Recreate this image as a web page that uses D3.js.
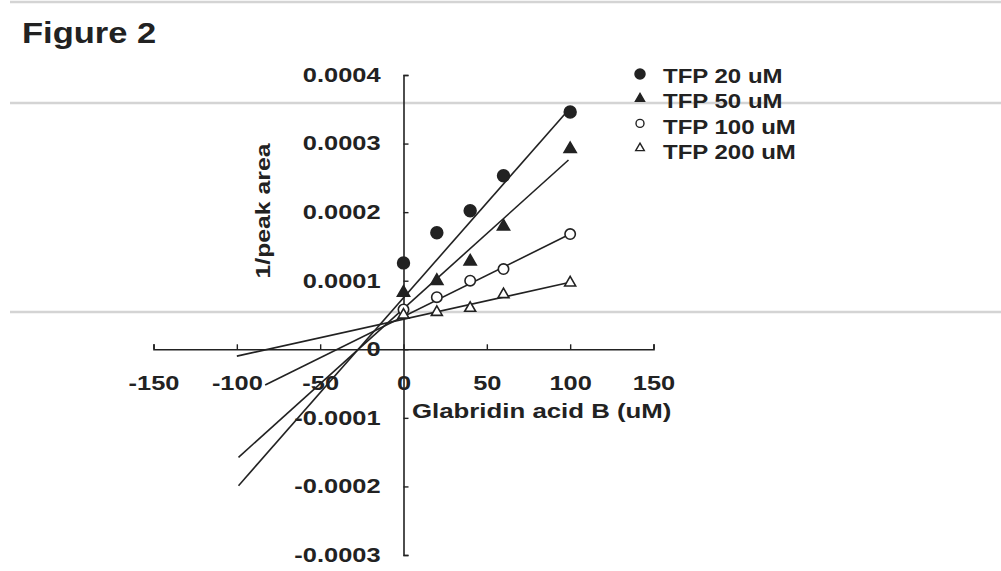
<!DOCTYPE html>
<html>
<head>
<meta charset="utf-8">
<script src="https://cdn.jsdelivr.net/npm/d3@7"></script>
<style>
  body { margin: 0; background: #fff; }
  svg { display: block; font-family: "Liberation Sans", Arial, sans-serif; font-weight: bold; }
</style>
</head>
<body>
<svg id="chart"></svg>
<script>
// values
const concs = [0, 20, 40, 60, 100];
const seriesNames = ["TFP 20 uM", "TFP 50 uM", "TFP 100 uM", "TFP 200 uM"];
const tfp20 = [0.000126, 0.00017, 0.000202, 0.000253, 0.000346];
const tfp50 = [0.0000825, 0.0000996, 0.000128, 0.000179, 0.000292];
const tfp100 = [0.000058, 0.000076, 0.0001, 0.000117, 0.000168];
const tfp200 = [0.00005, 0.000054, 0.00006, 0.00008, 0.000097];

// fitted lines, end points as drawn
const trendX0 = [-99, -99, -83, -100];
const trendY0 = [-0.000199, -0.0001575, -0.000052, -0.00001];
const trendX1 = [100, 99, 100, 100];
const trendY1 = [0.000352, 0.000276, 0.000168, 0.0000977];

const xTicks = [-150, -100, -50, 0, 50, 100, 150];
const yTicks = [-0.0003, -0.0002, -0.0001, 0, 0.0001, 0.0002, 0.0003, 0.0004];

const w = 1001;
const h = 571;
const ink = "#222";

const svg = d3.select("#chart").attr("width", w).attr("height", h);

// scan edge lines in the picture
[2, 103, 312].forEach((yy) => {
  svg.append("line")
    .attr("x1", 10).attr("x2", w)
    .attr("y1", yy).attr("y2", yy)
    .attr("stroke", "#d4d4d4")
    .attr("stroke-width", 2.5);
});

const x = d3.scaleLinear().domain([-150, 150]).range([153.5, 653.5]);
const y = d3.scaleLinear().domain([-0.0003, 0.0004]).range([555, 75]);

function label(str, tx, ty, size, sx, anchor) {
  return svg.append("text")
    .attr("transform", `translate(${tx},${ty}) scale(${sx},1)`)
    .attr("text-anchor", anchor || "start")
    .attr("fill", ink)
    .style("font-size", size + "px")
    .text(str);
}

label("Figure 2", 22, 43, 30, 1.15);

// axes cross at the origin
const tickSx = 1.27;
const xAxis = d3.axisBottom(x)
  .tickValues(xTicks)
  .tickSizeInner(-5)
  .tickSizeOuter(-5)
  .tickPadding(27)
  .tickFormat((d) => String(d));

const yAxis = d3.axisLeft(y)
  .tickValues(yTicks)
  .tickSizeInner(-5)
  .tickSizeOuter(-5)
  .tickPadding(23)
  .tickFormat((d) => (d === 0 ? "0" : d.toFixed(4)));

const gx = svg.append("g")
  .attr("id", "x-axis")
  .attr("transform", `translate(0,${y(0)})`)
  .call(xAxis);

const gy = svg.append("g")
  .attr("id", "y-axis")
  .attr("transform", `translate(${x(0)},0)`)
  .call(yAxis);

[gx, gy].forEach((g) => {
  g.select(".domain").attr("stroke", ink).attr("stroke-width", 1.6);
  g.selectAll(".tick line").attr("stroke", ink).attr("stroke-width", 1.4);
  g.selectAll(".tick text")
    .attr("fill", ink)
    .style("font-size", "20px")
    .style("font-family", "'Liberation Sans', Arial, sans-serif")
    .style("font-weight", "bold");
});
gx.selectAll(".tick text").attr("transform", `scale(${tickSx},1)`);
gy.selectAll(".tick text")
  .attr("x", -23 / tickSx)
  .attr("transform", `scale(${tickSx},1)`);

label("Glabridin acid B (uM)", 412, 418, 20, 1.29);

svg.append("text")
  .attr("transform", "translate(270,211) rotate(-90) scale(1.24,1)")
  .attr("text-anchor", "middle")
  .attr("fill", ink)
  .style("font-size", "20px")
  .text("1/peak area");

// trend lines
const lines = svg.append("g");
seriesNames.forEach((name, i) => {
  lines.append("line")
    .attr("x1", x(trendX0[i])).attr("y1", y(trendY0[i]))
    .attr("x2", x(trendX1[i])).attr("y2", y(trendY1[i]))
    .attr("stroke", ink)
    .attr("stroke-width", 1.6);
});

// markers
const allSeries = [tfp20, tfp50, tfp100, tfp200];
const styles = [
  { type: d3.symbolCircle, size: 110, fill: ink },
  { type: d3.symbolTriangle, size: 64, fill: ink },
  { type: d3.symbolCircle, size: 85, fill: "#fff" },
  { type: d3.symbolTriangle, size: 52, fill: "#fff" },
];
const legendSize = [80, 36, 50, 32];

allSeries.forEach((vals, i) => {
  const s = styles[i];
  svg.append("g")
    .selectAll("path")
    .data(vals)
    .enter()
    .append("path")
    .attr("d", d3.symbol().type(s.type).size(s.size))
    .attr("transform", (d, j) => `translate(${x(concs[j])},${y(d)})`)
    .attr("fill", s.fill)
    .attr("stroke", ink)
    .attr("stroke-width", 1.6);
});

// legend
const legend = svg.append("g").attr("id", "legend");
seriesNames.forEach((name, i) => {
  const s = styles[i];
  legend.append("path")
    .attr("d", d3.symbol().type(s.type).size(legendSize[i]))
    .attr("transform", `translate(640,${74 + i * 24.7})`)
    .attr("fill", s.fill)
    .attr("stroke", ink)
    .attr("stroke-width", 1.4);
  label(name, 663, 83 + i * 25.3, 20, 1.2);
});
</script>
</body>
</html>
